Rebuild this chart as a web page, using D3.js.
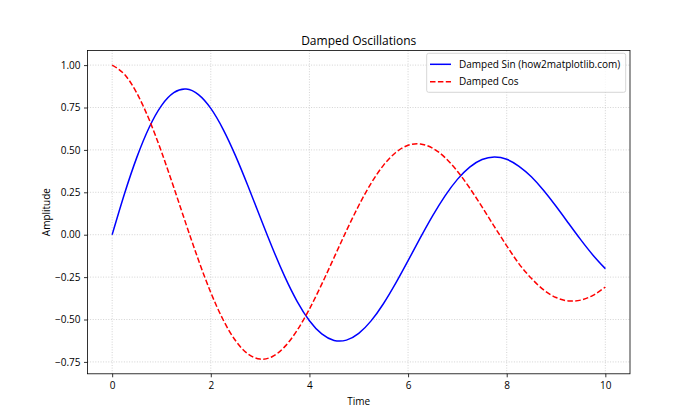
<!DOCTYPE html>
<html><head><meta charset="utf-8">
<script src="https://cdn.jsdelivr.net/npm/d3@7"></script>
<style>
body{margin:0;background:#fff;}
text{font-family:"Open Sans","Noto Sans",sans-serif;fill:#000;}
</style></head>
<body>
<svg id="chart" width="700" height="420"></svg>
<script>
const timeValues = [0,0.25,0.5,0.75,1,1.25,1.5,1.75,2,2.25,2.5,2.75,3,3.25,3.5,3.75,4,4.25,4.5,4.75,5,5.25,5.5,5.75,6,6.25,6.5,6.75,7,7.25,7.5,7.75,8,8.25,8.5,8.75,9,9.25,9.5,9.75,10];
const dampedSin = [0,0.2413,0.4560,0.6324,0.7614,0.8375,0.8586,0.8260,0.7445,0.6213,0.4661,0.2899,0.1045,-0.0782,-0.2472,-0.3928,-0.5073,-0.5851,-0.6233,-0.6214,-0.5816,-0.5081,-0.4071,-0.2860,-0.1533,-0.0178,0.1123,0.2291,0.3263,0.3986,0.4431,0.4582,0.4445,0.4032,0.3413,0.2604,0.1676,0.0690,-0.0291,-0.1205,-0.2001];
const dampedCos = [1,0.9450,0.8348,0.6788,0.4889,0.2783,0.0609,-0.1496,-0.3407,-0.5016,-0.6239,-0.7021,-0.7334,-0.7183,-0.6599,-0.5640,-0.4382,-0.2916,-0.1344,0.0234,0.1721,0.3029,0.4089,0.4846,0.5270,0.5350,0.5098,0.4547,0.3744,0.2751,0.1637,0.0478,-0.0654,-0.1717,-0.2573,-0.3255,-0.3704,-0.3905,-0.3856,-0.3574,-0.3087];
const xTicks = [0,2,4,6,8,10];
const yTicks = [-0.75,-0.5,-0.25,0,0.25,0.5,0.75,1.0];
const seriesNames = ["Damped Sin (how2matplotlib.com)","Damped Cos"];
const titleText = "Damped Oscillations";
const xLabel = "Time", yLabel = "Amplitude";

const svg = d3.select("#chart");
const L = 87.5, R = 630, T = 50.4, B = 373.8;

const xMin = d3.min(timeValues), xMax = d3.max(timeValues);
const xPad = (xMax - xMin) * 0.05;
const allY = dampedSin.concat(dampedCos);
const yMin = d3.min(allY), yMax = d3.max(allY);
const yPad = (yMax - yMin) * 0.05;
const x = d3.scaleLinear().domain([xMin - xPad, xMax + xPad]).range([L, R]);
const y = d3.scaleLinear().domain([yMin - yPad, yMax + yPad]).range([B, T]);

// grid
const grid = svg.append("g");
xTicks.forEach(t => grid.append("line").attr("x1", x(t)).attr("x2", x(t)).attr("y1", T).attr("y2", B)
  .attr("stroke", "#c8c8c8").attr("stroke-width", 0.8).attr("stroke-dasharray", "1,1.6"));
yTicks.forEach(t => grid.append("line").attr("x1", L).attr("x2", R).attr("y1", y(t)).attr("y2", y(t))
  .attr("stroke", "#c8c8c8").attr("stroke-width", 0.8).attr("stroke-dasharray", "1,1.6"));

// axes
const xAxis = d3.axisBottom(x).tickValues(xTicks).tickFormat(d3.format("d")).tickSize(3.5).tickPadding(3.5);
const yAxis = d3.axisLeft(y).tickValues(yTicks).tickFormat(d3.format(".2f")).tickSize(3.5).tickPadding(3.5);
const gx = svg.append("g").attr("transform", `translate(0,${B})`).call(xAxis);
const gy = svg.append("g").attr("transform", `translate(${L},0)`).call(yAxis);
[gx, gy].forEach(g => {
  g.select(".domain").remove();
  g.selectAll(".tick line").attr("stroke", "#000").attr("stroke-width", 0.8);
  g.selectAll(".tick text").attr("font-size", 10).attr("fill", "#000").attr("font-family", '"Open Sans","Noto Sans",sans-serif');
});
gx.selectAll(".tick text").attr("dy", "0.8em");

// lines
const pts = (ys) => timeValues.map((t, i) => [t, ys[i]]);
const line = d3.line().x(d => x(d[0])).y(d => y(d[1])).curve(d3.curveNatural);
const plot = svg.append("g");
plot.append("path").attr("d", line(pts(dampedSin))).attr("fill", "none").attr("stroke", "#0000ff").attr("stroke-width", 1.5);
plot.append("path").attr("d", line(pts(dampedCos))).attr("fill", "none").attr("stroke", "#ff0000").attr("stroke-width", 1.5)
  .attr("stroke-dasharray", "5.5,2.4");

// frame
svg.append("rect").attr("x", L).attr("y", T).attr("width", R - L).attr("height", B - T)
  .attr("fill", "none").attr("stroke", "#000").attr("stroke-width", 0.8);

// title & labels
svg.append("text").attr("x", (L + R) / 2).attr("y", 45).attr("text-anchor", "middle").attr("font-size", 12).text(titleText);
svg.append("text").attr("x", (L + R) / 2).attr("y", 405).attr("text-anchor", "middle").attr("font-size", 10).text(xLabel);
svg.append("text").attr("transform", `translate(50,${(T + B) / 2}) rotate(-90)`).attr("text-anchor", "middle").attr("font-size", 10).text(yLabel);

// legend
const lg = svg.append("g");
lg.append("rect").attr("x", 426.7).attr("y", 53.3).attr("width", 199).attr("height", 39).attr("rx", 2)
  .attr("fill", "#fff").attr("fill-opacity", 0.8).attr("stroke", "#cccccc").attr("stroke-width", 0.8);
const styles = [{c: "#0000ff", d: null}, {c: "#ff0000", d: "5.5,2.4"}];
seriesNames.forEach((n, i) => {
  const yy = 64.3 + i * 17.4;
  const ln = lg.append("line").attr("x1", 430).attr("x2", 451).attr("y1", yy).attr("y2", yy)
    .attr("stroke", styles[i].c).attr("stroke-width", 1.5);
  if (styles[i].d) ln.attr("stroke-dasharray", styles[i].d);
  lg.append("text").attr("x", 459).attr("y", yy).attr("dy", "0.35em").attr("font-size", 10).text(n);
});
</script>
</body></html>
